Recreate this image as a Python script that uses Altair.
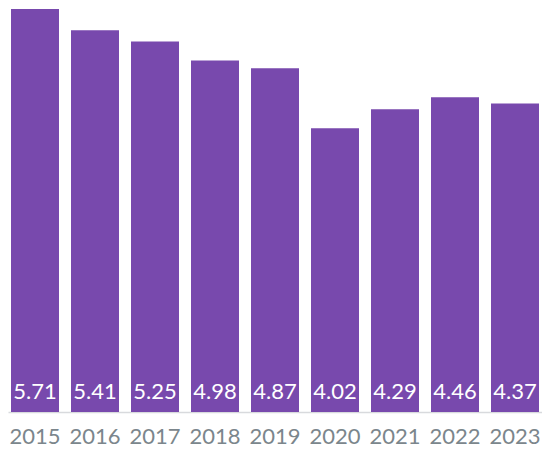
import altair as alt
import pandas as pd

years = ["2015", "2016", "2017", "2018", "2019", "2020", "2021", "2022", "2023"]
values = [5.71, 5.41, 5.25, 4.98, 4.87, 4.02, 4.29, 4.46, 4.37]

df = pd.DataFrame({"year": years, "value": values})
df["label"] = df["value"].map(lambda v: f"{v:.2f}")

FONT = "Lato"
H = 404

x = alt.X(
    "year:N",
    sort=years,
    title=None,
    scale=alt.Scale(paddingInner=0.2, paddingOuter=0.05),
    axis=alt.Axis(
        labelAngle=0,
        labelFont=FONT,
        labelFontSize=22,
        labelColor="#7b868c",
        labelBaseline="alphabetic",
        labelPadding=31,
        ticks=False,
        domainColor="#d8dadd",
        domainWidth=1.5,
    ),
)

bars = alt.Chart(df).mark_bar(color="#7849ad").encode(
    x=x,
    y=alt.Y("value:Q", scale=alt.Scale(domain=[0, 5.725], nice=False), axis=None),
)

labels = alt.Chart(df).mark_text(
    color="white", font=FONT, fontSize=22, baseline="alphabetic", dy=-13
).encode(
    x=x,
    y=alt.value(H),
    text="label:N",
)

chart = (
    alt.layer(bars, labels)
    .properties(
        width=534,
        height=H,
        autosize=alt.AutoSizeParams(type="none"),
        padding={"left": 0, "top": 0, "right": 0, "bottom": 36},
    )
    .configure_view(stroke=None)
    .configure_axis(grid=False)
)

chart.save("out.html", embed_options={"renderer": "svg", "actions": False})
